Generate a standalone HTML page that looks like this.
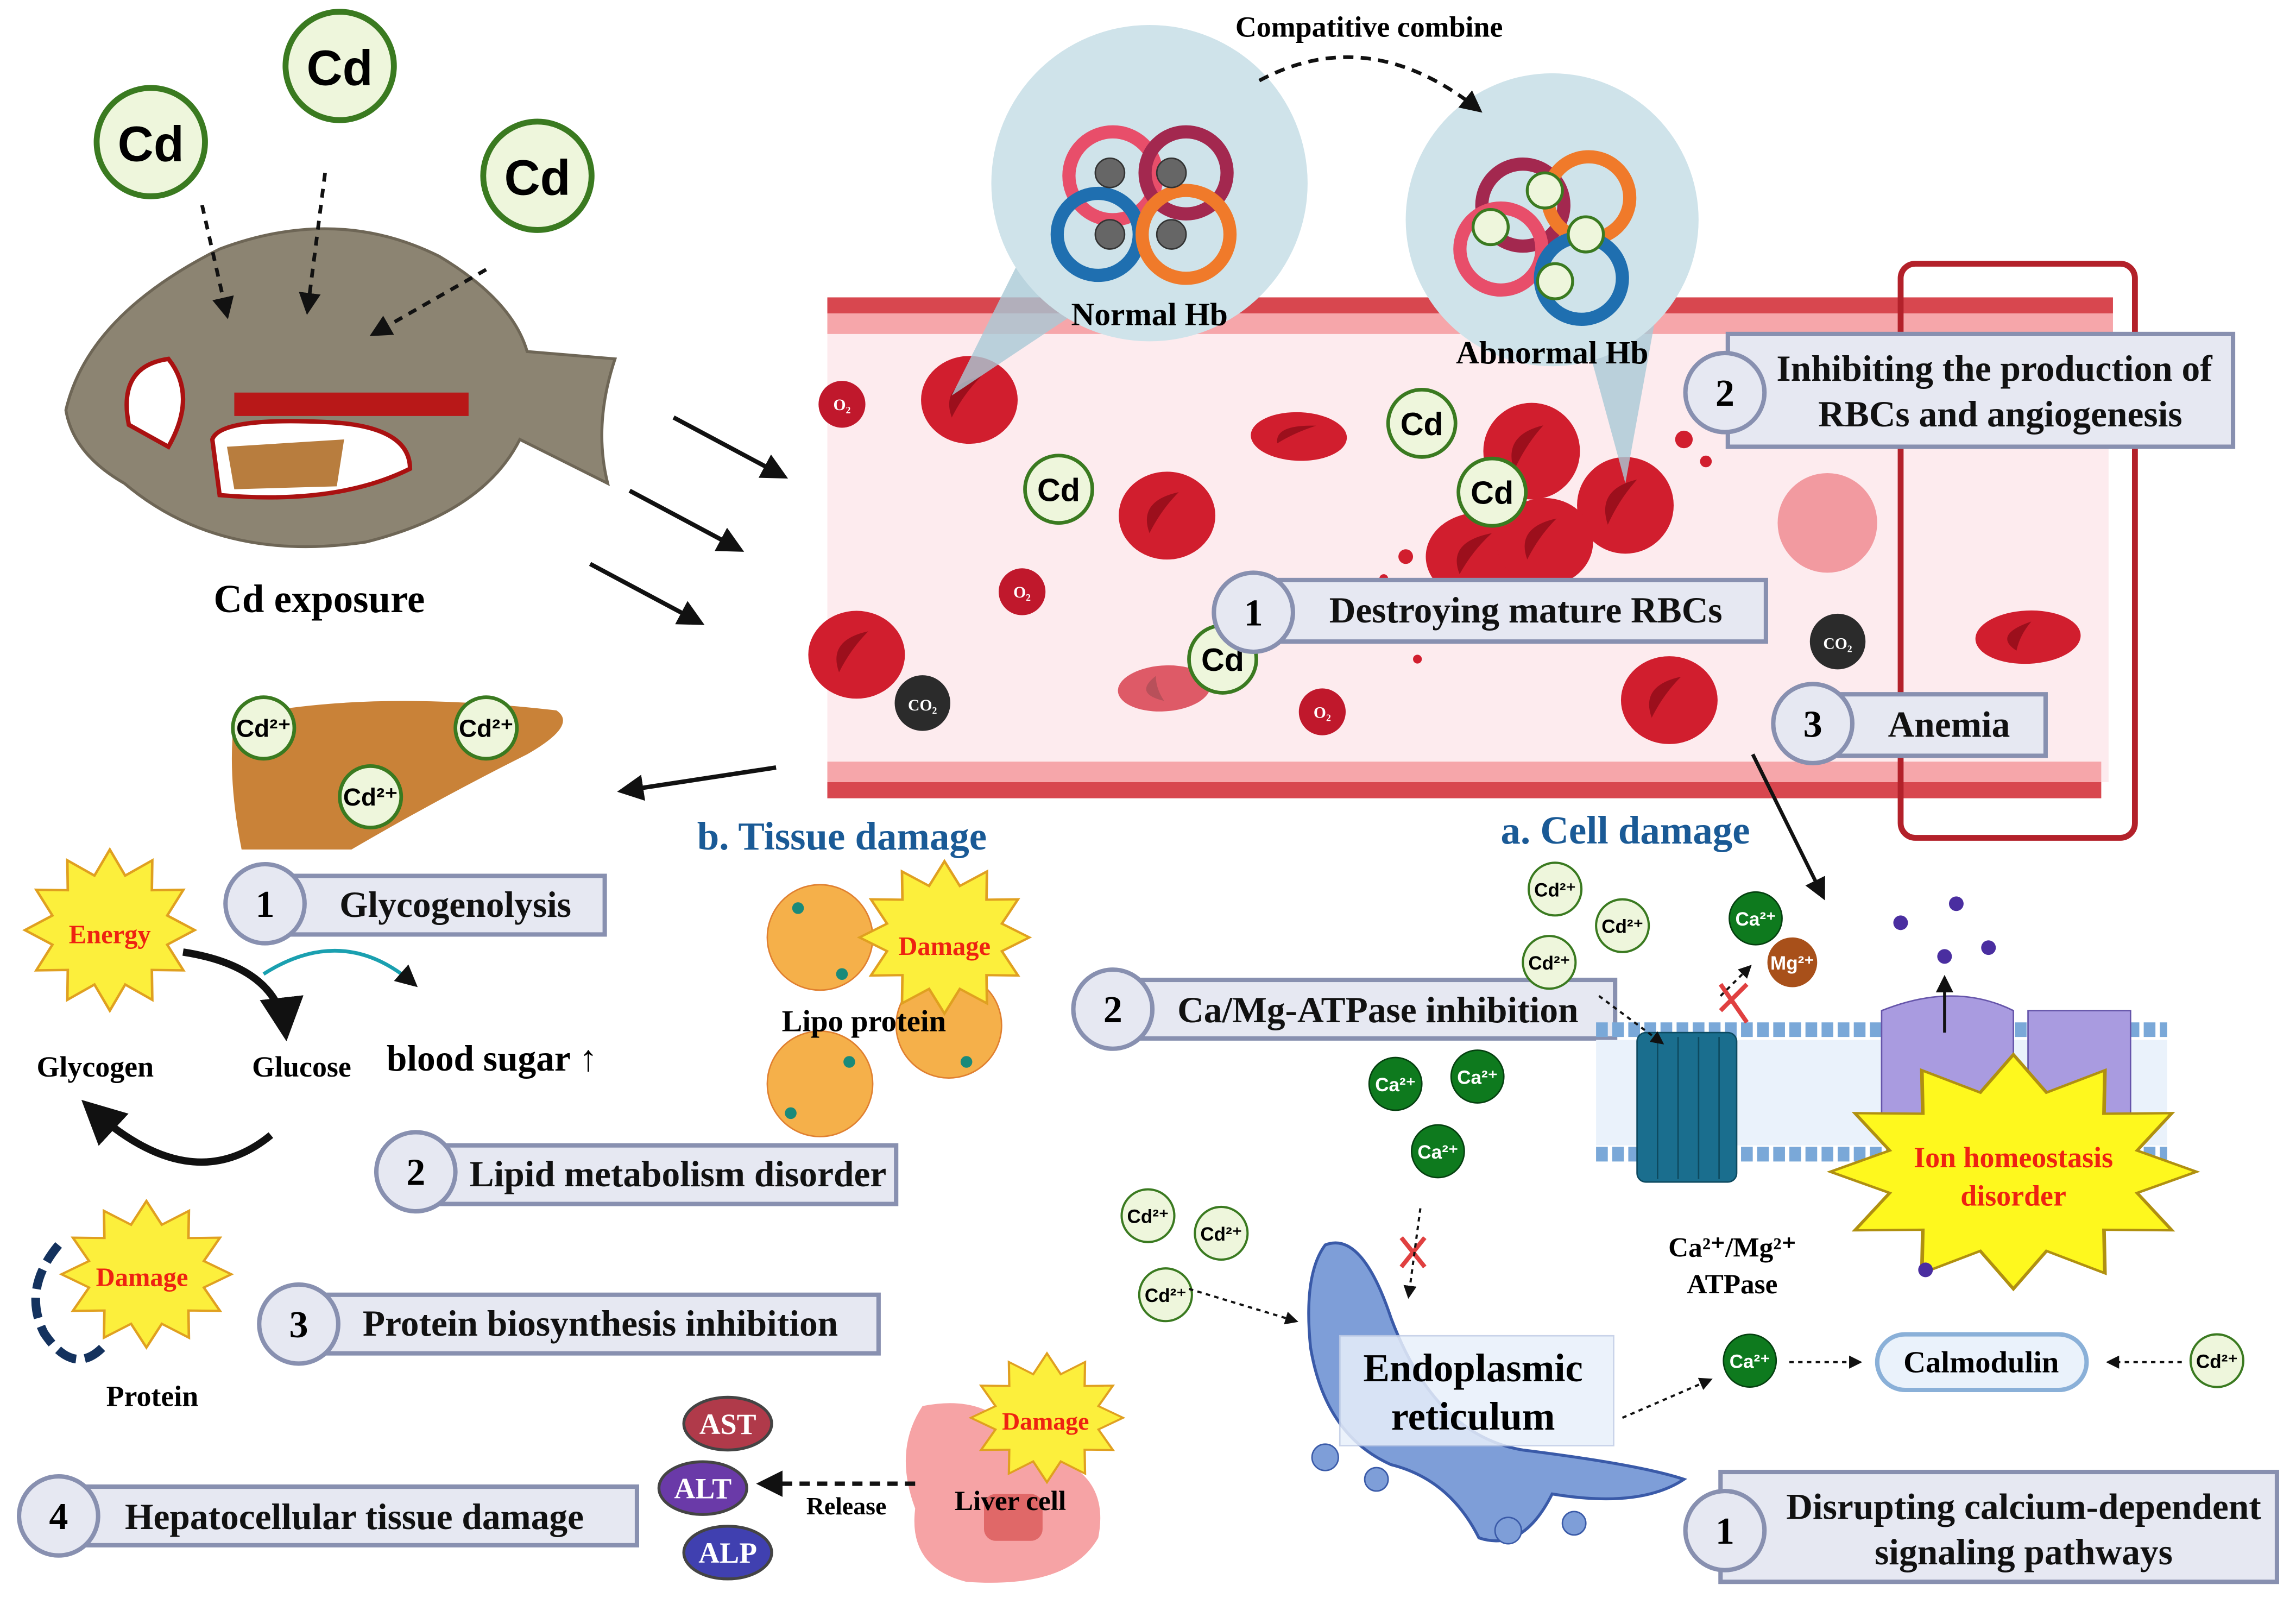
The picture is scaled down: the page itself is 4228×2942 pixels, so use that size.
<!DOCTYPE html>
<html><head><meta charset="utf-8"><style>
html,body{margin:0;padding:0;background:#fff}
svg{display:block}
text{font-family:"Liberation Serif",serif;font-weight:bold}
.lb{font-size:25px;fill:#111}
.cs{font-family:"Liberation Sans",sans-serif}
</style></head><body>
<svg width="4228" height="2942" viewBox="0 0 1568 1091" xmlns="http://www.w3.org/2000/svg">
<defs>
<polygon id="star" points="1,0 0.676,0.181 0.866,0.5 0.495,0.495 0.5,0.866 0.181,0.676 0,1 -0.181,0.676 -0.5,0.866 -0.495,0.495 -0.866,0.5 -0.676,0.181 -1,0 -0.676,-0.181 -0.866,-0.5 -0.495,-0.495 -0.5,-0.866 -0.181,-0.676 0,-1 0.181,-0.676 0.5,-0.866 0.495,-0.495 0.866,-0.5 0.676,-0.181"/>
<marker id="ah" viewBox="0 0 10 10" refX="8" refY="5" markerWidth="6" markerHeight="6" orient="auto"><path d="M0,0L10,5L0,10z" fill="#111"/></marker>
<g id="rbc"><ellipse rx="33" ry="30" fill="#d11e2e"/><path d="M-12,12 Q-20,-10 8,-16 Q-4,-4 -12,12z" fill="#9c0f1c"/></g>
</defs>
<rect width="1568" height="1091" fill="#fff"/>

<!-- vessel -->
<rect x="565" y="212" width="875" height="322" fill="#fdebee"/>
<rect x="565" y="203" width="878" height="11" fill="#d8474f"/>
<rect x="565" y="214" width="878" height="14" fill="#f6a6aa"/>
<rect x="565" y="520" width="870" height="14" fill="#f6a6aa"/>
<rect x="565" y="534" width="870" height="11" fill="#d8474f"/>
<rect x="1298" y="180" width="160" height="392" rx="10" fill="none" stroke="#b3212a" stroke-width="4"/>

<!-- RBCs -->
<use href="#rbc" transform="translate(662,273) scale(1,1)"/>
<use href="#rbc" transform="translate(797,352)"/>
<use href="#rbc" transform="translate(887,298) scale(1,0.55) rotate(15)"/>
<use href="#rbc" transform="translate(585,447)"/>
<use href="#rbc" transform="translate(1046,308) scale(1,1.1)"/>
<use href="#rbc" transform="translate(1110,345) scale(1,1.1)"/>
<use href="#rbc" transform="translate(1010,380) scale(1.1,1)"/>
<use href="#rbc" transform="translate(1055,370)"/>
<use href="#rbc" transform="translate(1140,478)"/>
<use href="#rbc" transform="translate(1385,435) scale(1.1,0.6) rotate(-20)"/>
<use href="#rbc" transform="translate(795,470) scale(1,0.5) rotate(-45)" opacity="0.7"/>
<circle cx="1248" cy="357" r="34" fill="#f29aa0"/>
<g fill="#d11e2e"><circle cx="1150" cy="300" r="6"/><circle cx="1165" cy="315" r="4"/><circle cx="960" cy="380" r="5"/><circle cx="968" cy="450" r="3"/><circle cx="945" cy="395" r="3"/></g>
<g font-family="Liberation Sans" font-size="11" fill="#fff" text-anchor="middle">
<circle cx="575" cy="276" r="16" fill="#c0182c"/><text x="575" y="280">O₂</text>
<circle cx="698" cy="404" r="16" fill="#c0182c"/><text x="698" y="408">O₂</text>
<circle cx="903" cy="486" r="16" fill="#c0182c"/><text x="903" y="490">O₂</text>
<circle cx="630" cy="480" r="19" fill="#2b2b2b"/><text x="630" y="485">CO₂</text>
<circle cx="1255" cy="438" r="19" fill="#2b2b2b"/><text x="1255" y="443">CO₂</text>
</g>

<!-- Hb bubbles -->
<path d="M700,170 L650,270 L740,210z" fill="#a9c9d6" opacity=".8"/>
<path d="M1080,220 L1110,330 L1130,220z" fill="#a9c9d6" opacity=".8"/>
<circle cx="785" cy="125" r="108" fill="#cfe3ea"/>
<circle cx="1060" cy="150" r="100" fill="#cfe3ea"/>
<g fill="none" stroke-width="9">
<circle cx="760" cy="120" r="30" stroke="#e84e6a"/><circle cx="810" cy="118" r="28" stroke="#a3284f"/>
<circle cx="750" cy="160" r="28" stroke="#1f6fb0"/><circle cx="810" cy="160" r="30" stroke="#f07a2a"/>
<circle cx="1040" cy="140" r="28" stroke="#a3284f"/><circle cx="1085" cy="135" r="28" stroke="#f07a2a"/>
<circle cx="1025" cy="170" r="28" stroke="#e84e6a"/><circle cx="1080" cy="190" r="28" stroke="#1f6fb0"/>
</g>
<g fill="#666" stroke="#333"><circle cx="758" cy="118" r="10"/><circle cx="800" cy="118" r="10"/><circle cx="758" cy="160" r="10"/><circle cx="800" cy="160" r="10"/></g>
<g fill="#eef6dc" stroke="#3a7a20" stroke-width="2"><circle cx="1055" cy="130" r="12"/><circle cx="1018" cy="155" r="12"/><circle cx="1083" cy="160" r="12"/><circle cx="1062" cy="192" r="12"/></g>
<text x="785" y="222" font-size="22" text-anchor="middle">Normal Hb</text>
<text x="1060" y="248" font-size="22" text-anchor="middle">Abnormal Hb</text>
<text x="935" y="25" font-size="20" text-anchor="middle">Compatitive combine</text>
<path d="M860,55 Q935,15 1010,75" fill="none" stroke="#111" stroke-width="2.5" stroke-dasharray="7,5" marker-end="url(#ah)"/>

<!-- fish -->
<path d="M45,280 Q60,215 150,170 Q230,140 300,175 Q350,205 360,240 L420,245 Q405,290 415,330 L355,300 Q330,350 250,370 Q150,385 85,330 Q50,310 45,280z" fill="#8c8472" stroke="#6e6656" stroke-width="2"/>
<path d="M88,290 Q80,250 115,245 Q135,270 115,305z" fill="#fff" stroke="#a11" stroke-width="3"/>
<rect x="160" y="268" width="160" height="16" fill="#b81818"/>
<path d="M145,300 Q150,285 220,288 Q280,290 280,320 Q230,345 150,338z" fill="#fff" stroke="#a11" stroke-width="3"/>
<path d="M155,305 L235,300 L230,332 L160,334z" fill="#b87d3e"/>
<text x="218" y="418" font-size="27" text-anchor="middle">Cd exposure</text>

<!-- Cd coins -->
<g fill="#eef6dc" stroke="#3a7a20" stroke-width="4">
<circle cx="103" cy="97" r="37"/><circle cx="232" cy="45" r="37"/><circle cx="367" cy="120" r="37"/>
</g>
<g font-size="34" text-anchor="middle">
<text x="103" y="110" class="cs">Cd</text><text x="232" y="58" class="cs">Cd</text><text x="367" y="133" class="cs">Cd</text></g>
<g fill="#eef6dc" stroke="#3a7a20" stroke-width="2.5">
<circle cx="723" cy="334" r="23"/><circle cx="971" cy="289" r="23"/><circle cx="1019" cy="336" r="23"/><circle cx="835" cy="450" r="23"/></g>
<g font-size="22" text-anchor="middle">
<text x="723" y="342" class="cs">Cd</text><text x="971" y="297" class="cs">Cd</text><text x="1019" y="344" class="cs">Cd</text><text x="835" y="458" class="cs">Cd</text></g>
<g stroke="#111" stroke-width="2.5" stroke-dasharray="6,5" fill="none" marker-end="url(#ah)">
<path d="M138,140 L155,215"/><path d="M222,118 L210,212"/><path d="M332,184 L255,228"/></g>
<g stroke="#111" stroke-width="3" marker-end="url(#ah)"><path d="M460,285 L535,325"/><path d="M430,335 L505,375"/><path d="M403,385 L478,425"/><path d="M530,524 L425,540"/></g>

<!-- liver -->
<path d="M160,490 Q250,470 380,485 Q395,495 360,515 Q300,545 240,580 L165,580 Q155,530 160,490z" fill="#c98238"/>
<g fill="#eef6dc" stroke="#3a7a20" stroke-width="2.5"><circle cx="180" cy="497" r="21"/><circle cx="332" cy="497" r="21"/><circle cx="253" cy="544" r="21"/></g>
<g font-size="17" text-anchor="middle"><text x="180" y="503" class="cs">Cd²⁺</text><text x="332" y="503" class="cs">Cd²⁺</text><text x="253" y="550" class="cs">Cd²⁺</text></g>

<text x="575" y="580" font-size="27" fill="#1a5a96" text-anchor="middle">b. Tissue damage</text>
<text x="1110" y="576" font-size="27" fill="#1a5a96" text-anchor="middle">a. Cell damage</text>

<!-- label boxes -->
<g fill="#e6e8f2" stroke="#8890b0" stroke-width="3">
<rect x="870" y="396" width="336" height="42"/><rect x="1180" y="228" width="345" height="77"/><rect x="1250" y="474" width="147" height="42"/>
<rect x="190" y="598" width="223" height="40"/><rect x="290" y="782" width="322" height="40"/><rect x="210" y="884" width="390" height="40"/><rect x="50" y="1015" width="385" height="40"/>
<rect x="765" y="669" width="338" height="40"/><rect x="1175" y="1005" width="380" height="75"/>
<circle cx="856" cy="418" r="27"/><circle cx="1178" cy="268" r="27"/><circle cx="1238" cy="494" r="27"/>
<circle cx="181" cy="617" r="27"/><circle cx="284" cy="800" r="27"/><circle cx="204" cy="904" r="27"/><circle cx="40" cy="1035" r="27"/>
<circle cx="760" cy="689" r="27"/><circle cx="1178" cy="1045" r="27"/>
</g>
<g font-size="26" text-anchor="middle">
<text x="856" y="427">1</text><text x="1178" y="277">2</text><text x="1238" y="503">3</text><text x="181" y="626">1</text><text x="284" y="809">2</text><text x="204" y="913">3</text><text x="40" y="1044">4</text><text x="760" y="698">2</text><text x="1178" y="1054">1</text></g>
<g class="lb" text-anchor="middle">
<text x="1042" y="425">Destroying mature RBCs</text>
<text x="1362" y="260">Inhibiting the production of</text><text x="1366" y="291">RBCs and angiogenesis</text>
<text x="1331" y="503">Anemia</text>
<text x="311" y="626">Glycogenolysis</text><text x="463" y="810">Lipid metabolism disorder</text>
<text x="410" y="912">Protein biosynthesis inhibition</text><text x="242" y="1044">Hepatocellular tissue damage</text>
<text x="941" y="698">Ca/Mg-ATPase inhibition</text>
<text x="1382" y="1037">Disrupting calcium-dependent</text><text x="1382" y="1068">signaling pathways</text></g>

<!-- energy cycle -->
<use href="#star" transform="translate(75,635) scale(58,55)" fill="#fcef3c" stroke="#e0a020" stroke-width="0.03"/>
<text x="75" y="644" font-size="18" fill="#e21" text-anchor="middle">Energy</text>
<path d="M125,650 Q190,660 195,705" fill="none" stroke="#111" stroke-width="5" marker-end="url(#ah)"/>
<path d="M185,775 Q130,820 60,755" fill="none" stroke="#111" stroke-width="5" marker-end="url(#ah)"/>
<path d="M180,665 Q235,630 283,672" fill="none" stroke="#1aa0b0" stroke-width="2.5" marker-end="url(#ah)"/>
<text x="65" y="735" font-size="20" text-anchor="middle">Glycogen</text><text x="206" y="735" font-size="20" text-anchor="middle">Glucose</text>
<text x="336" y="731" font-size="25" text-anchor="middle">blood sugar ↑</text>
<!-- lipo -->
<g fill="#f5b04a" stroke="#e08030"><circle cx="560" cy="640" r="36"/><circle cx="648" cy="700" r="36"/><circle cx="560" cy="740" r="36"/></g>
<g fill="#1a8a7a"><circle cx="545" cy="620" r="4"/><circle cx="575" cy="665" r="4"/><circle cx="540" cy="760" r="4"/><circle cx="580" cy="725" r="4"/><circle cx="660" cy="725" r="4"/></g>
<use href="#star" transform="translate(645,640) scale(58,52)" fill="#fcef3c" stroke="#e0a020" stroke-width="0.03"/>
<text x="645" y="652" font-size="18" fill="#e21" text-anchor="middle">Damage</text>
<text x="590" y="704" font-size="21" text-anchor="middle">Lipo protein</text>
<!-- protein -->
<path d="M40,850 Q15,880 30,910 Q50,940 70,920" fill="none" stroke="#14325e" stroke-width="6" stroke-dasharray="14,6"/>
<use href="#star" transform="translate(100,870) scale(58,50)" fill="#fcef3c" stroke="#e0a020" stroke-width="0.03"/>
<text x="97" y="878" font-size="18" fill="#e21" text-anchor="middle">Damage</text>
<text x="104" y="960" font-size="20" text-anchor="middle">Protein</text>
<!-- liver cell -->
<path d="M630,960 Q680,950 700,990 Q760,1000 750,1050 Q730,1085 660,1080 Q620,1070 625,1030 Q610,990 630,960z" fill="#f6a3a5"/>
<rect x="672" y="1020" width="40" height="32" rx="8" fill="#e06868"/>
<use href="#star" transform="translate(715,968) scale(52,44)" fill="#fcef3c" stroke="#e0a020" stroke-width="0.03"/>
<text x="714" y="976" font-size="17" fill="#e21" text-anchor="middle">Damage</text>
<text x="690" y="1031" font-size="19" text-anchor="middle">Liver cell</text>
<path d="M625,1013 L520,1013" stroke="#111" stroke-width="3" stroke-dasharray="7,5" marker-end="url(#ah)"/>
<text x="578" y="1034" font-size="17" text-anchor="middle">Release</text>
<g stroke="#444" stroke-width="2"><ellipse cx="497" cy="972" rx="30" ry="18" fill="#b03a4a"/><ellipse cx="480" cy="1016" rx="30" ry="18" fill="#6a3aa8"/><ellipse cx="497" cy="1060" rx="30" ry="18" fill="#4040b0"/></g>
<g font-size="20" fill="#fff" text-anchor="middle" font-weight="normal"><text x="497" y="979">AST</text><text x="480" y="1023">ALT</text><text x="497" y="1067">ALP</text></g>

<!-- membrane -->
<line x1="1090" y1="703" x2="1480" y2="703" stroke="#7aa8d8" stroke-width="10" stroke-dasharray="8,3"/>
<line x1="1090" y1="788" x2="1480" y2="788" stroke="#7aa8d8" stroke-width="10" stroke-dasharray="8,3"/>
<rect x="1090" y="710" width="390" height="72" fill="#eaf2fb"/>
<rect x="1118" y="705" width="68" height="102" rx="6" fill="#1a6e8e" stroke="#0d4a60"/>
<g stroke="#0d4a60"><line x1="1132" y1="708" x2="1132" y2="805"/><line x1="1146" y1="708" x2="1146" y2="805"/><line x1="1160" y1="708" x2="1160" y2="805"/><line x1="1174" y1="708" x2="1174" y2="805"/></g>
<path d="M1285,690 Q1335,670 1375,690 L1375,780 L1285,780z" fill="#a99be0" stroke="#6655aa"/>
<path d="M1385,690 L1455,690 L1455,780 L1385,780z" fill="#a99be0" stroke="#6655aa"/>
<use href="#star" transform="translate(1375,800) scale(125,80)" fill="#fef81e" stroke="#b09010" stroke-width="0.02"/>
<text x="1375" y="797" font-size="20" fill="#e21" text-anchor="middle">Ion homeostasis</text>
<text x="1375" y="823" font-size="20" fill="#e21" text-anchor="middle">disorder</text>
<text x="1183" y="858" font-size="19" text-anchor="middle">Ca²⁺/Mg²⁺</text><text x="1183" y="883" font-size="19" text-anchor="middle">ATPase</text>
<g fill="#4a2ea0"><circle cx="1298" cy="630" r="5"/><circle cx="1336" cy="617" r="5"/><circle cx="1358" cy="647" r="5"/><circle cx="1328" cy="653" r="5"/><circle cx="1315" cy="867" r="5"/></g>
<path d="M1328,705 L1328,668" stroke="#111" stroke-width="2" marker-end="url(#ah)"/>
<path d="M1197,515 L1245,612" stroke="#111" stroke-width="2.5" marker-end="url(#ah)"/>
<g fill="#0e7a1e" stroke="#054010"><circle cx="1199" cy="627" r="18"/><circle cx="953" cy="740" r="18"/><circle cx="1009" cy="735" r="18"/><circle cx="982" cy="786" r="18"/><circle cx="1195" cy="929" r="18"/></g>
<circle cx="1224" cy="657" r="17" fill="#a8501a"/>
<g font-size="13" fill="#fff" text-anchor="middle"><text x="1199" y="632" class="cs">Ca²⁺</text><text x="953" y="745" class="cs">Ca²⁺</text><text x="1009" y="740" class="cs">Ca²⁺</text><text x="982" y="791" class="cs">Ca²⁺</text><text x="1195" y="934" class="cs">Ca²⁺</text><text x="1224" y="662" class="cs">Mg²⁺</text></g>
<g fill="#eef6dc" stroke="#3a7a20" stroke-width="1.5"><circle cx="1062" cy="607" r="18"/><circle cx="1108" cy="632" r="18"/><circle cx="1058" cy="657" r="18"/><circle cx="784" cy="830" r="18"/><circle cx="834" cy="842" r="18"/><circle cx="796" cy="884" r="18"/><circle cx="1514" cy="929" r="18"/></g>
<g font-size="13" text-anchor="middle"><text x="1062" y="612" class="cs">Cd²⁺</text><text x="1108" y="637" class="cs">Cd²⁺</text><text x="1058" y="662" class="cs">Cd²⁺</text><text x="784" y="835" class="cs">Cd²⁺</text><text x="834" y="847" class="cs">Cd²⁺</text><text x="796" y="889" class="cs">Cd²⁺</text><text x="1514" y="934" class="cs">Cd²⁺</text></g>
<path d="M1175,690 L1193,672 M1175,672 L1193,698" stroke="#e04040" stroke-width="3"/>
<path d="M1175,680 L1195,660" stroke="#111" stroke-width="1.5" stroke-dasharray="3,3" marker-end="url(#ah)"/>
<path d="M1092,680 L1135,712" stroke="#111" stroke-width="1.5" stroke-dasharray="3,3" marker-end="url(#ah)"/>

<!-- ER -->
<path d="M905,850 Q930,840 950,900 Q980,980 1040,990 Q1120,1000 1150,1010 Q1120,1030 1060,1020 Q1040,1060 1010,1050 Q990,1010 950,1000 Q905,980 895,920 Q890,870 905,850z" fill="#7e9ed8" stroke="#3a5aa8" stroke-width="2"/>
<g fill="#7e9ed8" stroke="#3a5aa8"><circle cx="905" cy="995" r="9"/><circle cx="940" cy="1010" r="8"/><circle cx="1030" cy="1045" r="9"/><circle cx="1075" cy="1040" r="8"/></g>
<rect x="915" y="912" width="187" height="75" fill="#e8f0fb" opacity=".85" stroke="#c0cce6"/>
<text x="1006" y="943" font-size="27" text-anchor="middle">Endoplasmic</text>
<text x="1006" y="976" font-size="27" text-anchor="middle">reticulum</text>
<path d="M957,845 L973,865 M973,845 L957,865" stroke="#e04040" stroke-width="3"/>
<path d="M970,825 L962,885" stroke="#111" stroke-width="1.5" stroke-dasharray="3,3" marker-end="url(#ah)"/>
<path d="M812,880 L885,902" stroke="#111" stroke-width="1.5" stroke-dasharray="3,3" marker-end="url(#ah)"/>
<path d="M1108,968 L1168,942" stroke="#111" stroke-width="1.5" stroke-dasharray="3,3" marker-end="url(#ah)"/>
<path d="M1222,930 L1270,930" stroke="#111" stroke-width="1.5" stroke-dasharray="3,3" marker-end="url(#ah)"/>
<path d="M1490,930 L1440,930" stroke="#111" stroke-width="1.5" stroke-dasharray="3,3" marker-end="url(#ah)"/>
<rect x="1282" y="911" width="143" height="38" rx="19" fill="#eaf2fb" stroke="#8ab0d8" stroke-width="3"/>
<text x="1353" y="937" font-size="21" text-anchor="middle">Calmodulin</text>
</svg>
</body></html>
